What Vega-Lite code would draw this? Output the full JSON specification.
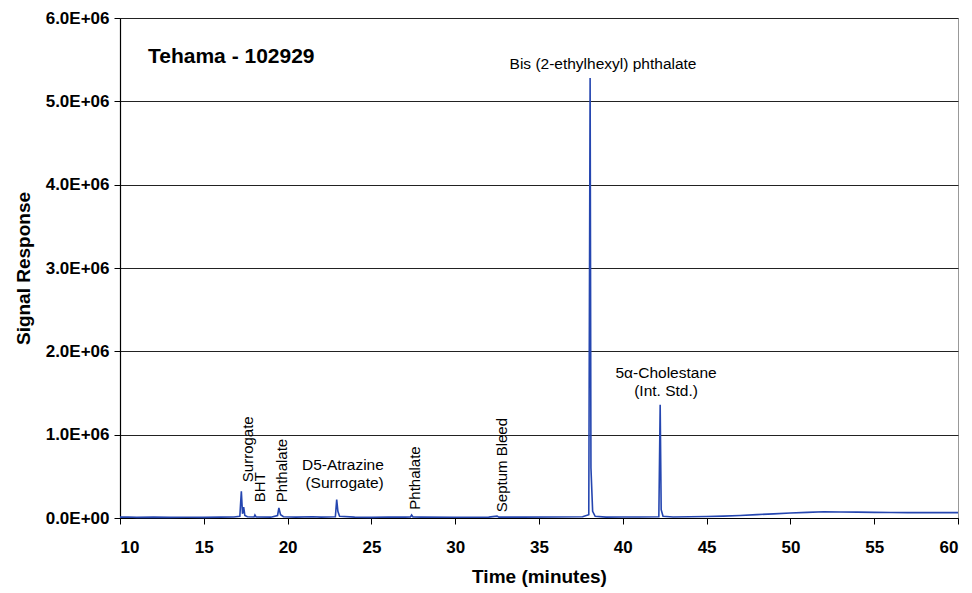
{
  "$schema": "https://vega.github.io/schema/vega-lite/v6.json",
  "width": 838,
  "height": 500,
  "autosize": "none",
  "padding": {"left": 120, "top": 18, "right": 14, "bottom": 75},
  "background": "white",
  "view": {"stroke": "#999999", "strokeWidth": 1},
  "config": {"font": "Liberation Sans"},
  "datasets": {
    "trace": [
      {"t": 10.0, "s": 10000}, {"t": 10.5, "s": 12000}, {"t": 11.0, "s": 8000}, {"t": 12.0, "s": 10000},
      {"t": 13.0, "s": 7000}, {"t": 14.0, "s": 9000}, {"t": 15.0, "s": 8000}, {"t": 16.0, "s": 10000},
      {"t": 16.8, "s": 12000}, {"t": 17.15, "s": 20000}, {"t": 17.24, "s": 320000}, {"t": 17.31, "s": 50000},
      {"t": 17.38, "s": 130000}, {"t": 17.45, "s": 30000}, {"t": 17.6, "s": 15000}, {"t": 18.0, "s": 12000},
      {"t": 18.05, "s": 35000}, {"t": 18.12, "s": 12000}, {"t": 19.0, "s": 10000}, {"t": 19.4, "s": 30000},
      {"t": 19.48, "s": 120000}, {"t": 19.58, "s": 40000}, {"t": 19.75, "s": 15000}, {"t": 20.5, "s": 10000},
      {"t": 21.5, "s": 15000}, {"t": 22.0, "s": 10000}, {"t": 22.85, "s": 15000}, {"t": 22.93, "s": 220000},
      {"t": 23.0, "s": 80000}, {"t": 23.1, "s": 20000}, {"t": 24.0, "s": 10000}, {"t": 25.0, "s": 8000},
      {"t": 26.0, "s": 12000}, {"t": 27.0, "s": 10000}, {"t": 27.33, "s": 12000}, {"t": 27.4, "s": 35000},
      {"t": 27.48, "s": 12000}, {"t": 28.0, "s": 10000}, {"t": 30.0, "s": 9000}, {"t": 32.0, "s": 10000},
      {"t": 32.5, "s": 22000}, {"t": 32.6, "s": 10000}, {"t": 34.0, "s": 10000}, {"t": 36.0, "s": 12000},
      {"t": 37.6, "s": 15000}, {"t": 37.97, "s": 40000}, {"t": 38.05, "s": 5280000}, {"t": 38.1, "s": 600000},
      {"t": 38.2, "s": 80000}, {"t": 38.35, "s": 20000}, {"t": 39.0, "s": 10000}, {"t": 40.0, "s": 12000},
      {"t": 41.0, "s": 12000}, {"t": 42.15, "s": 15000}, {"t": 42.23, "s": 1360000}, {"t": 42.29, "s": 100000},
      {"t": 42.4, "s": 20000}, {"t": 43.0, "s": 12000}, {"t": 44.0, "s": 15000}, {"t": 45.0, "s": 18000},
      {"t": 46.0, "s": 22000}, {"t": 47.0, "s": 30000}, {"t": 48.0, "s": 40000}, {"t": 49.0, "s": 50000},
      {"t": 50.0, "s": 60000}, {"t": 51.0, "s": 68000}, {"t": 52.0, "s": 75000}, {"t": 53.0, "s": 72000},
      {"t": 54.0, "s": 70000}, {"t": 55.0, "s": 68000}, {"t": 56.0, "s": 66000}, {"t": 57.0, "s": 65000},
      {"t": 58.0, "s": 64000}, {"t": 59.0, "s": 64000}, {"t": 60.0, "s": 64000}
    ],
    "hlabels": [
      {"t": 38.82, "s": 5450000, "label": "Bis (2-ethylhexyl) phthalate"},
      {"t": 42.58, "s": 1740000, "label": "5α-Cholestane"},
      {"t": 42.58, "s": 1520000, "label": "(Int. Std.)"},
      {"t": 23.3, "s": 636000, "label": "D5-Atrazine"},
      {"t": 23.4, "s": 420000, "label": "(Surrogate)"}
    ],
    "vlabels": [
      {"t": 17.64, "s": 430000, "label": "Surrogate"},
      {"t": 18.35, "s": 190000, "label": "BHT"},
      {"t": 19.67, "s": 190000, "label": "Phthalate"},
      {"t": 27.6, "s": 100000, "label": "Phthalate"},
      {"t": 32.8, "s": 70000, "label": "Septum Bleed"}
    ],
    "heading": [
      {"t": 11.67, "s": 5530000, "label": "Tehama - 102929"}
    ]
  },
  "encoding": {
    "x": {
      "field": "t", "type": "quantitative",
      "scale": {"domain": [10, 60], "nice": false},
      "axis": {
        "title": "Time (minutes)", "values": [10, 15, 20, 25, 30, 35, 40, 45, 50, 55, 60],
        "grid": false, "domainColor": "black", "domainWidth": 1.2, "tickColor": "black", "tickSize": 6,
        "labelFont": "Liberation Sans", "labelFontWeight": "bold", "labelFontSize": 17, "labelColor": "black",
        "labelPadding": 15, "titleFont": "Liberation Sans", "titleFontWeight": "bold", "titleFontSize": 19,
        "titleColor": "black", "titlePadding": 12
      }
    },
    "y": {
      "field": "s", "type": "quantitative",
      "scale": {"domain": [0, 6000000], "nice": false},
      "axis": {
        "title": "Signal Response", "values": [0, 1000000, 2000000, 3000000, 4000000, 5000000, 6000000],
        "labelExpr": "datum.value == 0 ? '0.0E+00' : format(datum.value / 1000000, '.1f') + 'E+06'",
        "grid": true, "gridColor": "#222222", "gridWidth": 1.2,
        "domainColor": "black", "domainWidth": 1.2, "tickColor": "black", "tickSize": 6,
        "labelFont": "Liberation Sans", "labelFontWeight": "bold", "labelFontSize": 17, "labelColor": "black",
        "labelPadding": 5, "titleFont": "Liberation Sans", "titleFontWeight": "bold", "titleFontSize": 19,
        "titleColor": "black", "titlePadding": 12
      }
    }
  },
  "layer": [
    {
      "data": {"name": "trace"},
      "mark": {"type": "line", "color": "#2546b0", "strokeWidth": 1.6}
    },
    {
      "data": {"name": "hlabels"},
      "mark": {"type": "text", "font": "Liberation Sans", "fontSize": 15.5, "color": "black", "align": "center", "baseline": "middle"},
      "encoding": {"text": {"field": "label"}}
    },
    {
      "data": {"name": "vlabels"},
      "mark": {"type": "text", "font": "Liberation Sans", "fontSize": 15, "color": "black", "angle": 270, "align": "left", "baseline": "middle"},
      "encoding": {"text": {"field": "label"}}
    },
    {
      "data": {"name": "heading"},
      "mark": {"type": "text", "font": "Liberation Sans", "fontSize": 21, "fontWeight": "bold", "color": "black", "align": "left", "baseline": "middle"},
      "encoding": {"text": {"field": "label"}}
    }
  ]
}
